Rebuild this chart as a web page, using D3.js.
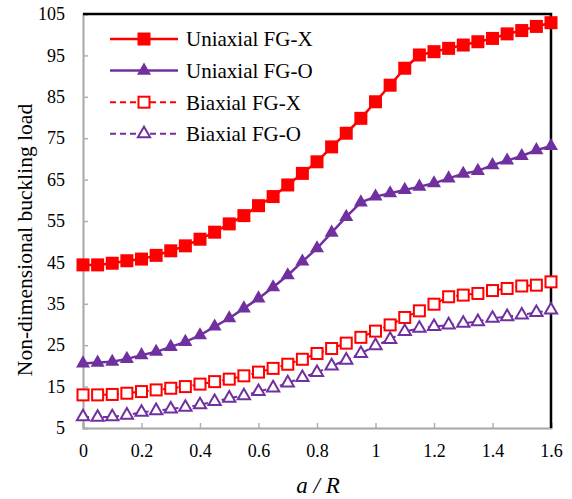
<!DOCTYPE html>
<html>
<head>
<meta charset="utf-8">
<script src="https://cdn.jsdelivr.net/npm/d3@7"></script>
<style>
  body { margin: 0; background: #fff; }
  text { font-family: "Liberation Serif", serif; }
</style>
</head>
<body>
<div id="chart"></div>
<script>
const xValues = [0, 0.05, 0.1, 0.15, 0.2, 0.25, 0.3, 0.35, 0.4, 0.45, 0.5, 0.55, 0.6, 0.65, 0.7, 0.75, 0.8,
  0.85, 0.9, 0.95, 1.0, 1.05, 1.1, 1.15, 1.2, 1.25, 1.3, 1.35, 1.4, 1.45, 1.5, 1.55, 1.6];

const uniaxialX = [44.4, 44.4, 44.8, 45.4, 45.8, 46.7, 47.8, 49.0, 50.6, 52.3, 54.3, 56.3, 58.7, 60.9, 63.7, 66.5, 69.3,
  72.9, 76.2, 79.8, 83.8, 87.8, 91.9, 95.1, 95.9, 96.7, 97.5, 98.3, 99.1, 100.2, 101.0, 102.0, 102.9];
const uniaxialO = [20.6, 20.8, 21.0, 21.7, 22.6, 23.4, 24.6, 25.8, 27.4, 29.5, 31.5, 33.9, 36.3, 39.0, 41.9, 45.2, 48.4,
  52.2, 56.0, 59.5, 60.9, 61.7, 62.5, 63.3, 64.1, 65.3, 66.4, 67.1, 68.5, 69.6, 70.7, 72.1, 73.1];
const biaxialX = [13.0, 13.0, 13.1, 13.4, 13.8, 14.2, 14.6, 15.0, 15.6, 16.2, 16.8, 17.6, 18.5, 19.4, 20.4, 21.6, 23.0,
  24.2, 25.5, 26.9, 28.4, 29.9, 31.7, 33.3, 34.9, 36.7, 37.1, 37.5, 38.2, 38.7, 39.3, 39.5, 40.3];
const biaxialO = [7.7, 7.6, 7.7, 8.1, 8.8, 9.2, 9.6, 10.0, 10.6, 11.4, 12.2, 12.8, 13.8, 14.7, 15.9, 17.2, 18.4,
  20.0, 21.4, 23.0, 24.9, 26.4, 28.3, 29.1, 29.5, 29.9, 30.3, 30.7, 31.5, 31.9, 32.3, 32.9, 33.5];

const xTicks = [0, 0.2, 0.4, 0.6, 0.8, 1, 1.2, 1.4, 1.6];
const yTicks = [5, 15, 25, 35, 45, 55, 65, 75, 85, 95, 105];

const seriesNames = ["Uniaxial FG-X", "Uniaxial FG-O", "Biaxial FG-X", "Biaxial FG-O"];

const red = "#ff0000", purple = "#7030a0";
const series = [
  { name: seriesNames[0], values: uniaxialX, color: red, shape: "square", filled: true, dashed: false },
  { name: seriesNames[1], values: uniaxialO, color: purple, shape: "triangle", filled: true, dashed: false },
  { name: seriesNames[2], values: biaxialX, color: red, shape: "square", filled: false, dashed: true },
  { name: seriesNames[3], values: biaxialO, color: purple, shape: "triangle", filled: false, dashed: true }
];

const width = 572, height = 499;
const margin = { top: 14, right: 21, bottom: 71, left: 83 };

const svg = d3.select("#chart").append("svg")
  .attr("width", width)
  .attr("height", height);

const x = d3.scaleLinear().domain([0, 1.6]).range([margin.left, width - margin.right]);
const y = d3.scaleLinear().domain([5, 105]).range([height - margin.bottom, margin.top]);

// axes
const gx = svg.append("g")
  .attr("transform", `translate(0,${y(5)})`)
  .call(d3.axisBottom(x).tickValues(xTicks).tickSize(-5).tickPadding(16)
    .tickFormat(d => String(d)));
const gy = svg.append("g")
  .attr("transform", `translate(${x(0)},0)`)
  .call(d3.axisLeft(y).tickValues(yTicks).tickSize(-5).tickPadding(18));

[gx, gy].forEach(g => {
  g.select(".domain").attr("stroke", "#a6a6a6").attr("stroke-width", 2);
  g.selectAll(".tick line").attr("stroke", "#b0b0b0").attr("stroke-width", 1.5);
  g.selectAll(".tick text").attr("fill", "#000").style("font-size", "18px")
    .style("font-family", "Liberation Serif, serif");
});

// top / right frame
svg.append("path")
  .attr("d", `M${x(0)},${y(105)}H${x(1.6)}V${y(5)}`)
  .attr("fill", "none")
  .attr("stroke", "#000")
  .attr("stroke-width", 2.5);

const line = d3.line().x((d, i) => x(xValues[i])).y(d => y(d));

const tri = d3.symbol().type(d3.symbolTriangle);

function drawMarker(g, s, cx, cy) {
  if (s.shape === "square") {
    const size = s.filled ? 13 : 11;
    g.append("rect")
      .attr("x", cx - size / 2).attr("y", cy - size / 2)
      .attr("width", size).attr("height", size)
      .attr("fill", s.filled ? s.color : "#fff")
      .attr("stroke", s.color)
      .attr("stroke-width", s.filled ? 0 : 2);
  } else {
    g.append("path")
      .attr("d", tri.size(s.filled ? 85 : 65)())
      .attr("transform", `translate(${cx},${cy})`)
      .attr("fill", s.filled ? s.color : "#fff")
      .attr("stroke", s.color)
      .attr("stroke-width", s.filled ? 0 : 2);
  }
}

series.forEach(s => {
  const g = svg.append("g");
  g.append("path")
    .datum(s.values)
    .attr("d", line)
    .attr("fill", "none")
    .attr("stroke", s.color)
    .attr("stroke-width", s.dashed ? 2 : 2.5)
    .attr("stroke-dasharray", s.dashed ? "6,4" : null);
  s.values.forEach((v, i) => drawMarker(g, s, x(xValues[i]), y(v)));
});

// legend
const legend = svg.append("g");
series.forEach((s, i) => {
  const ly = 39 + i * 31.6;
  legend.append("line")
    .attr("x1", 110).attr("x2", 178).attr("y1", ly).attr("y2", ly)
    .attr("stroke", s.color)
    .attr("stroke-width", s.dashed ? 2 : 2.5)
    .attr("stroke-dasharray", s.dashed ? "6,4" : null);
  drawMarker(legend, s, 144, ly);
  legend.append("text")
    .attr("x", 186).attr("y", ly)
    .attr("dy", "0.35em")
    .style("font-size", "21px")
    .text(s.name);
});

// axis titles
svg.append("text")
  .attr("transform", `translate(32,240) rotate(-90)`)
  .attr("text-anchor", "middle")
  .style("font-size", "21.5px")
  .text("Non-dimensional buckling load");

svg.append("text")
  .attr("x", 318)
  .attr("y", 493)
  .attr("text-anchor", "middle")
  .style("font-size", "23px")
  .style("font-style", "italic")
  .text("a / R");
</script>
</body>
</html>
